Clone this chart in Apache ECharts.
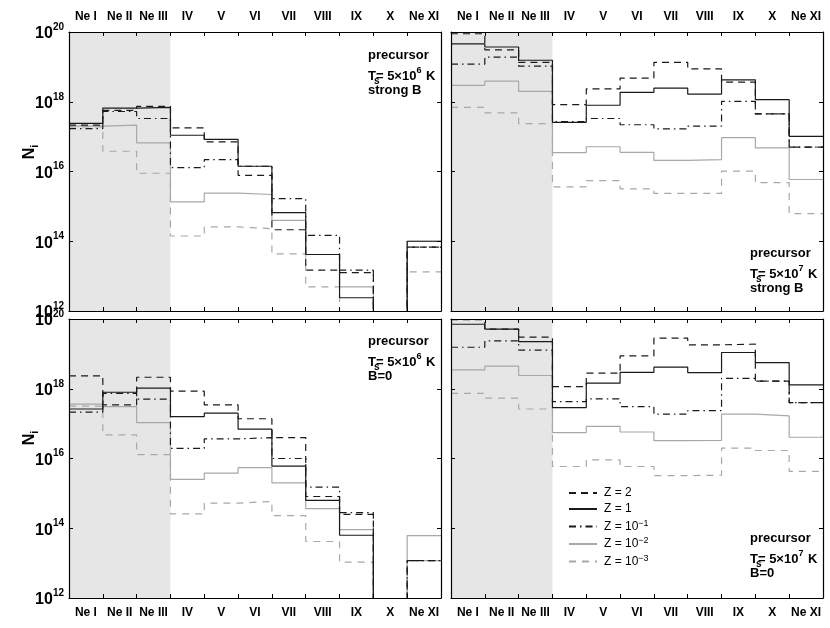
<!DOCTYPE html>
<html>
<head>
<meta charset="utf-8">
<script src="https://cdn.jsdelivr.net/npm/echarts@6/dist/echarts.min.js"></script>
<style>
  html, body { margin: 0; padding: 0; background: #fff; }
  #chart { width: 830px; height: 628px; }
</style>
</head>
<body>
<div id="chart"></div>
<script>
const categories = ['Ne I', 'Ne II', 'Ne III', 'IV', 'V', 'VI', 'VII', 'VIII', 'IX', 'X', 'Ne XI'];
const yExponents = [12, 14, 16, 18, 20];   // tick labels 10^12 ... 10^20
const seriesNames = ['Z = 2', 'Z = 1', 'Z = 10^-1', 'Z = 10^-2', 'Z = 10^-3'];

// log10(N_i) per ion stage; 11 means "below the plotted range"
// (a) precursor, Ts = 5e6 K, strong B
const a_z2    = [17.33, 17.75, 17.87, 17.25, 16.85, 15.89, 14.33, 13.17, 13.10, 11, 13.83];
const a_z1    = [17.38, 17.82, 17.84, 17.04, 16.92, 16.15, 14.82, 13.62, 12.38, 11, 14.00];
const a_z01   = [17.23, 17.72, 17.52, 16.11, 16.34, 16.15, 15.22, 14.17, 13.17, 11, 13.83];
const a_z001  = [17.30, 17.33, 16.82, 15.13, 15.38, 15.34, 14.60, 13.62, 12.69, 11, 14.00];
const a_z0001 = [17.28, 16.58, 15.95, 14.15, 14.41, 14.36, 13.64, 12.69, 11, 11, 13.12];
// (b) precursor, Ts = 5e7 K, strong B
const b_z2    = [19.95, 19.49, 19.13, 17.92, 18.37, 18.68, 19.13, 18.94, 18.56, 17.65, 16.70];
const b_z1    = [19.66, 19.57, 19.19, 17.41, 17.90, 18.27, 18.39, 18.22, 18.63, 18.06, 17.01];
const b_z01   = [19.08, 19.28, 19.02, 17.43, 17.52, 17.34, 17.22, 17.30, 18.01, 17.65, 16.70];
const b_z001  = [18.47, 18.59, 18.30, 16.54, 16.71, 16.55, 16.32, 16.34, 16.97, 16.68, 15.77];
const b_z0001 = [17.84, 17.68, 17.37, 15.56, 15.74, 15.50, 15.37, 15.37, 16.01, 15.68, 14.79];
// (c) precursor, Ts = 5e6 K, B = 0
const c_z2    = [18.37, 17.54, 18.33, 17.93, 17.54, 17.14, 16.60, 14.91, 14.40, 11, 13.07];
const c_z1    = [17.42, 17.90, 18.02, 17.20, 17.30, 16.84, 15.78, 14.80, 13.80, 11, 11];
const c_z01   = [17.33, 17.87, 17.70, 16.29, 16.56, 16.60, 16.00, 15.18, 14.45, 11, 13.07];
const c_z001  = [17.56, 17.49, 17.03, 15.40, 15.58, 15.74, 15.30, 14.56, 13.96, 11, 13.79];
const c_z0001 = [17.50, 16.68, 16.11, 14.41, 14.72, 14.77, 14.36, 13.62, 13.03, 11, 13.07];
// (d) precursor, Ts = 5e7 K, B = 0
const d_z2    = [19.98, 19.71, 19.48, 18.06, 18.45, 18.94, 19.45, 19.26, 19.28, 18.22, 17.60];
const d_z1    = [19.85, 19.71, 19.35, 17.46, 18.16, 18.47, 18.62, 18.46, 19.04, 18.75, 18.11];
const d_z01   = [19.19, 19.37, 19.11, 17.63, 17.71, 17.49, 17.27, 17.37, 18.30, 18.22, 17.60];
const d_z001  = [18.54, 18.65, 18.38, 16.74, 16.92, 16.76, 16.51, 16.52, 17.27, 17.22, 16.61];
const d_z0001 = [17.87, 17.73, 17.42, 15.77, 15.96, 15.77, 15.51, 15.52, 16.30, 16.23, 15.63];

const FONT = '"Liberation Sans", Arial, Helvetica, sans-serif';

const lineStyles = [
  { color: '#1a1a1a', type: [7, 5], z: 4 },
  { color: '#1a1a1a', type: 'solid', z: 4 },
  { color: '#1a1a1a', type: [7, 4, 1.5, 4], z: 4 },
  { color: '#a8a8a8', type: 'solid', z: 3 },
  { color: '#a8a8a8', type: [7, 6], z: 3 }
];

const panels = [
  { sets: [a_z2, a_z1, a_z01, a_z001, a_z0001], left: 69, top: 32, top_labels: true, y_labels: true,
    letter: '(a)', ts: '6', field: 'strong B', textY: 57 },
  { sets: [b_z2, b_z1, b_z01, b_z001, b_z0001], left: 451, top: 32, top_labels: true, y_labels: false,
    letter: '(b)', ts: '7', field: 'strong B', textY: 255 },
  { sets: [c_z2, c_z1, c_z01, c_z001, c_z0001], left: 69, top: 319, top_labels: false, y_labels: true,
    letter: '(c)', ts: '6', field: 'B=0', textY: 343 },
  { sets: [d_z2, d_z1, d_z01, d_z001, d_z0001], left: 451, top: 319, top_labels: false, y_labels: false,
    letter: '(d)', ts: '7', field: 'B=0', textY: 540 }
];
const W = 372, H = 279;

function stepData(arr) {
  const pts = arr.map((v, i) => [i, Math.pow(10, v)]);
  pts.push([arr.length, Math.pow(10, arr[arr.length - 1])]);
  return pts;
}

const tickStyle = { show: true, inside: true, length: 4, lineStyle: { color: '#000', width: 1 } };
const lineAxis = { show: true, lineStyle: { color: '#000', width: 1.2 } };

const grid = [], xAxis = [], yAxis = [], series = [], graphic = [];

panels.forEach((p, g) => {
  grid.push({ left: p.left, top: p.top, width: W, height: H });

  xAxis.push({
    gridIndex: g, type: 'value', min: 0, max: categories.length, interval: 1,
    position: p.top_labels ? 'bottom' : 'top', z: 5,
    axisLine: lineAxis, axisTick: tickStyle, axisLabel: { show: false }, splitLine: { show: false }
  });
  xAxis.push({
    gridIndex: g, type: 'category', data: categories, boundaryGap: true,
    position: p.top_labels ? 'top' : 'bottom', z: 5,
    axisLine: lineAxis, axisTick: tickStyle,
    axisLabel: { show: true, interval: 0, margin: 9, color: '#000', fontFamily: FONT, fontWeight: 'bold', fontSize: 12 },
    splitLine: { show: false }
  });

  const yBase = {
    gridIndex: g, type: 'log', logBase: 10,
    min: Math.pow(10, yExponents[0]), max: Math.pow(10, yExponents[yExponents.length - 1]),
    interval: yExponents[1] - yExponents[0], z: 5,
    axisLine: lineAxis, axisTick: tickStyle, splitLine: { show: false }, minorTick: { show: false }
  };
  yAxis.push(Object.assign({}, yBase, {
    position: 'left',
    axisLabel: {
      show: p.y_labels, margin: 5, color: '#000', showMinLabel: true, showMaxLabel: true,
      formatter: v => '{b|10}{s|' + Math.round(Math.log10(v)) + '}',
      rich: {
        b: { fontFamily: FONT, fontWeight: 'bold', fontSize: 16, color: '#000', verticalAlign: 'bottom' },
        s: { fontFamily: FONT, fontWeight: 'bold', fontSize: 10, color: '#000', verticalAlign: 'bottom', padding: [0, 0, 10, 0] }
      }
    }
  }));
  yAxis.push(Object.assign({}, yBase, { position: 'right', axisLabel: { show: false } }));

  p.sets.forEach((arr, k) => {
    const st = lineStyles[k];
    const s = {
      name: seriesNames[k], type: 'line', xAxisIndex: 2 * g, yAxisIndex: 2 * g,
      step: 'end', symbol: 'none', showSymbol: false, clip: true, z: st.z,
      lineStyle: { color: st.color, type: st.type, width: 1.2 },
      itemStyle: { color: st.color },
      data: stepData(arr)
    };
    if (k === 4) {
      s.markArea = {
        silent: true,
        itemStyle: { color: '#e6e6e6' },
        data: [[{ xAxis: 0 }, { xAxis: 3 }]]
      };
    }
    series.push(s);
  });

  const tx = p.left + W - 73;
  const labelStyle = { fontFamily: FONT, fontWeight: 'bold', fontSize: 13, fill: '#000' };
  graphic.push({ type: 'text', left: tx, top: p.textY - 8, style: Object.assign({ text: 'precursor' }, labelStyle) });
  graphic.push({
    type: 'text', left: tx, top: p.textY + 9,
    style: Object.assign({
      text: '{t|T= 5×10}{sup|' + p.ts + '}{t| K}',
      rich: {
        t: { fontFamily: FONT, fontWeight: 'bold', fontSize: 13, fill: '#000', verticalAlign: 'top' },
        sup: { fontFamily: FONT, fontWeight: 'bold', fontSize: 9, fill: '#000', verticalAlign: 'top', padding: [-4, 1, 0, 0] }
      }
    }, labelStyle)
  });
  // subscript s of T_s, tucked under the T
  graphic.push({ type: 'text', left: tx + 6, top: p.textY + 19, style: { text: 's', fontFamily: FONT, fontWeight: 'bold', fontSize: 10, fill: '#000' } });
  graphic.push({ type: 'text', left: tx, top: p.textY + 27, style: Object.assign({ text: p.field }, labelStyle) });
  graphic.push({ type: 'text', left: p.left + 8, top: p.top + H - 33, style: Object.assign({ text: p.letter }, labelStyle) });
});

// y axis title N_i
[152, 438].forEach(cy => {
  graphic.push({
    type: 'text', x: 31, y: cy, rotation: Math.PI / 2,
    style: {
      text: '{n|N}{i|i}', align: 'center', verticalAlign: 'middle',
      rich: {
        n: { fontFamily: FONT, fontWeight: 'bold', fontSize: 16, fill: '#000', verticalAlign: 'top' },
        i: { fontFamily: FONT, fontWeight: 'bold', fontSize: 11, fill: '#000', verticalAlign: 'top', padding: [8, 0, 0, 0] }
      }
    }
  });
});

const chart = echarts.init(document.getElementById('chart'), null, { renderer: 'canvas' });
chart.setOption({
  animation: false,
  backgroundColor: '#fff',
  grid, xAxis, yAxis, series, graphic,
  legend: {
    data: seriesNames, orient: 'vertical', left: 568, top: 487, padding: 0,
    itemWidth: 28, itemHeight: 14, itemGap: 4,
    itemStyle: { opacity: 0 },
    formatter: name => name.replace(/10\^-(\d)/, '10{sup|−$1}'),
    textStyle: {
      fontFamily: FONT, fontSize: 12, color: '#000', padding: [0, 0, 0, 2],
      rich: { sup: { fontFamily: FONT, fontSize: 9, color: '#000', verticalAlign: 'bottom', padding: [0, 0, 6, 0] } }
    }
  }
});
</script>
</body>
</html>
